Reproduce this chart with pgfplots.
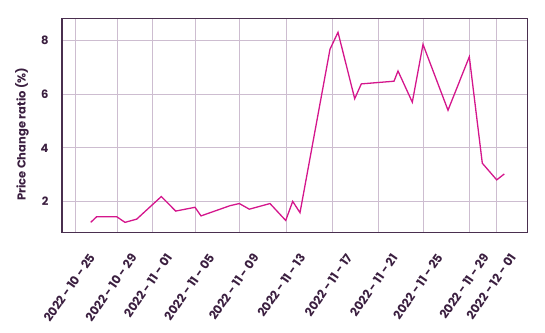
\documentclass[border=0pt]{standalone}
\usepackage{pgfplots}
\pgfplotsset{compat=1.18}
\usepackage{fontspec}
\setmainfont{Poppins}
\definecolor{linecol}{HTML}{D4168C}
\definecolor{txtcol}{HTML}{3B1F40}
\definecolor{gridcol}{HTML}{CDBDD0}
\definecolor{framecol}{HTML}{4A2F4F}
\begin{document}
\begin{tikzpicture}[x=1pt,y=1pt]
\begin{axis}[
  at={(0,0)}, anchor=south west,
  scale only axis,
  width=465.7pt, height=214pt,
  xmin=62, xmax=527.7,
  ymin=0.86, ymax=8.82,
  xtick={75.7,117.3,152.7,195,239.3,286,332.7,378.3,423.3,469.3,496.5},
  xticklabels={2022 - 10 - 25,2022 - 10 - 29,2022 - 11 - 01,2022 - 11 - 05,2022 - 11 - 09,2022 - 11 - 13,2022 - 11 - 17,2022 - 11 - 21,2022 - 11 - 25,2022 - 11 - 29,2022 - 12 - 01},
  ytick={2,4,6,8},
  major tick length=0pt,
  grid=major,
  major grid style={gridcol, line width=0.9pt},
  axis line style={framecol, line width=1.3pt},
  tick label style={font=\fontsize{11.5}{13}\selectfont\bfseries, text=txtcol},
  xticklabel style={font=\fontsize{12}{13}\selectfont\bfseries},
  /pgf/number format/assume math mode=true,
  xticklabel style={xshift=17pt, yshift=-22pt, rotate=55, anchor=east, inner sep=1pt},
  yticklabel style={xshift=-10pt},
  ylabel={Price Change ratio (\%)},
  ylabel style={font=\fontsize{11.5}{13}\selectfont\bfseries, text=txtcol, at={(ticklabel cs:0.5)}, yshift=5pt, xshift=-9pt},
]
\addplot[linecol, line width=1.3pt, mark=none] coordinates {
(90.7,1.23) (96.7,1.44) (116.7,1.44) (125,1.23) (136.7,1.35) (161.3,2.19)
(175.7,1.65) (195,1.79) (201,1.47) (230,1.85) (239.3,1.93) (249.3,1.72)
(270,1.93) (285.7,1.30) (292.7,2.01) (300,1.59) (330,7.67) (338,8.30)
(354.7,5.83) (361.3,6.38) (394,6.48) (398,6.86) (412.3,5.70) (423,7.85)
(448,5.40) (469.3,7.39) (482.3,3.43) (496.7,2.81) (504.3,3.03)
};
\end{axis}
\pgfresetboundingbox
\path[use as bounding box] (-62,-99.7) rectangle (483,232.3);
\end{tikzpicture}
\end{document}
